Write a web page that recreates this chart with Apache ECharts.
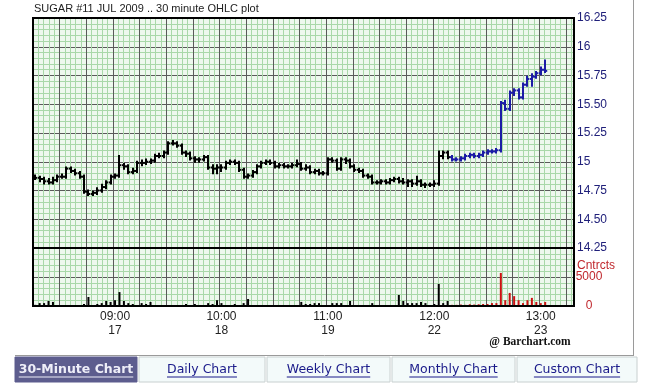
<!DOCTYPE html>
<html><head><meta charset="utf-8">
<script src="https://cdn.jsdelivr.net/npm/echarts@6/dist/echarts.min.js"></script>
<style>html,body{margin:0;padding:0;background:#fff;}#c{width:647px;height:383px;}</style>
</head><body><div id="c"></div>
<script>
// ---------- data ----------
const barCount = 122; // number of slots on the time axis
const opens = [14.87,14.86,14.85,14.83,14.82,14.84,14.87,14.87,14.94,14.92,14.90,14.87,14.74,14.72,14.73,14.75,14.78,14.82,14.87,14.88,
14.97,14.96,14.91,14.92,14.99,14.99,15.00,15.01,15.05,15.05,15.08,15.16,15.16,15.14,15.08,15.07,15.03,15.02,15.02,15.04,
14.95,14.94,14.95,14.95,14.99,15.00,14.99,14.93,14.87,14.88,14.91,14.96,14.99,15.00,14.99,14.96,14.97,14.96,14.96,14.97,
14.98,14.94,14.95,14.91,14.92,14.90,14.90,15.02,15.01,14.94,15.02,15.01,14.96,14.93,14.92,14.88,14.87,14.82,14.82,14.83,
14.82,14.84,14.85,14.83,14.82,14.83,14.81,14.83,14.80,14.80,14.80,14.81,15.05,15.08,15.04,15.02,15.02,15.03,15.05,15.06,
15.05,15.06,15.08,15.09,15.09,15.10,15.51,15.46,15.60,15.62,15.56,15.67,15.72,15.74,15.77,15.80];
const highs = [14.88,14.87,14.86,14.85,14.86,14.88,14.89,14.95,14.95,14.93,14.91,14.88,14.75,14.74,14.77,14.80,14.83,14.88,14.89,15.05,
14.98,14.97,14.94,15.00,15.01,15.02,15.02,15.06,15.07,15.09,15.17,15.18,15.17,15.15,15.09,15.08,15.04,15.03,15.05,15.05,
14.97,14.97,14.97,15.00,15.01,15.01,15.00,14.94,14.89,14.92,14.97,15.00,15.01,15.01,15.00,14.98,14.98,14.97,14.98,15.01,
14.99,14.97,14.96,14.93,14.93,14.91,15.03,15.03,15.02,15.03,15.03,15.02,14.97,14.94,14.93,14.89,14.88,14.83,14.84,14.84,
14.85,14.86,14.86,14.85,14.84,14.84,14.87,14.84,14.81,14.81,14.83,15.09,15.09,15.09,15.05,15.03,15.04,15.06,15.07,15.07,
15.07,15.09,15.10,15.10,15.11,15.52,15.53,15.61,15.63,15.63,15.68,15.74,15.76,15.78,15.82,15.88];
const lows = [14.85,14.83,14.81,14.81,14.81,14.83,14.86,14.86,14.91,14.89,14.86,14.73,14.71,14.71,14.72,14.74,14.77,14.81,14.86,14.87,
14.94,14.90,14.90,14.91,14.97,14.98,14.99,15.00,15.04,15.04,15.07,15.15,15.13,15.07,15.05,15.02,15.00,15.00,15.01,14.94,
14.90,14.90,14.92,14.94,14.98,14.98,14.92,14.86,14.86,14.87,14.90,14.95,14.98,14.98,14.95,14.95,14.95,14.95,14.95,14.96,
14.93,14.93,14.90,14.90,14.89,14.89,14.89,15.00,14.93,14.93,14.99,14.95,14.92,14.91,14.87,14.86,14.81,14.81,14.81,14.81,
14.81,14.83,14.82,14.81,14.79,14.79,14.80,14.79,14.78,14.79,14.79,14.80,15.03,15.03,15.01,15.01,15.01,15.02,15.04,15.04,
15.04,15.05,15.07,15.08,15.08,15.09,15.45,15.45,15.58,15.55,15.55,15.66,15.66,15.73,15.76,15.78];
const closes = [14.86,14.85,14.83,14.82,14.84,14.87,14.87,14.94,14.92,14.90,14.87,14.74,14.72,14.73,14.75,14.78,14.82,14.87,14.88,14.97,
14.96,14.91,14.92,14.99,14.99,15.00,15.01,15.05,15.05,15.08,15.16,15.16,15.14,15.08,15.07,15.03,15.02,15.02,15.04,14.95,
14.94,14.95,14.95,14.99,15.00,14.99,14.93,14.87,14.88,14.91,14.96,14.99,15.00,14.99,14.96,14.97,14.96,14.96,14.97,14.98,
14.94,14.95,14.91,14.92,14.90,14.90,15.02,15.01,14.94,15.02,15.01,14.96,14.93,14.92,14.88,14.87,14.82,14.82,14.83,14.82,
14.84,14.85,14.83,14.82,14.83,14.81,14.83,14.80,14.80,14.80,14.81,15.05,15.08,15.04,15.02,15.02,15.03,15.05,15.06,15.05,
15.06,15.08,15.09,15.09,15.10,15.51,15.46,15.60,15.62,15.56,15.67,15.72,15.74,15.77,15.80,15.79];
const volumes = [200,500,500,860,700,0,0,0,0,0,0,350,1550,0,350,500,860,700,1000,2400,
860,500,350,0,500,350,700,0,170,0,170,0,170,0,350,0,350,170,0,500,
350,1000,500,0,0,350,0,500,1200,0,0,0,0,0,0,0,0,0,0,0,
700,350,350,500,500,0,0,500,500,500,0,860,0,0,0,0,500,0,0,0,
0,0,1900,860,500,500,500,700,500,0,350,3800,500,860,200,200,250,200,300,250,
300,350,350,500,500,5700,1000,2250,1700,1000,500,1000,1400,700,500,700];
const todayStart = 94; // first bar of the current session (blue / red)
const xTickIndex = [18, 42, 66, 90, 114];
const xTickTime = ['09:00','10:00','11:00','12:00','13:00'];
const xTickDay = ['17','18','19','22','23'];
const priceTicks = [14.25,14.5,14.75,15,15.25,15.5,15.75,16,16.25];
const priceTickLabels = ['14.25','14.50','14.75','15','15.25','15.50','15.75','16','16.25'];
const volTicks = [0,5000];
const volTickLabels = ['0','5000'];
const titleText = 'SUGAR #11 JUL 2009 .. 30 minute OHLC plot';
const tabs = ['30-Minute Chart','Daily Chart','Weekly Chart','Monthly Chart','Custom Chart'];

// ---------- layout / style ----------
const PL = 33, PR = 574, PT = 18, PM = 248, PB = 306;
const majorPx = 26.65;
const gridMaxX = (PR - PL) / majorPx;
const BLUE = '#1c1ca6', RED = '#cc1111';
const MAJ = '#5a5a5a', MIN = '#a9d8a9', BG = '#eef8ee';
const cats = Array.from({length: barCount}, (_, i) => String(i));
const ohlcData = closes.map((c, i) => [i, opens[i], highs[i], lows[i], c]);

const chart = echarts.init(document.getElementById('c'), null, {renderer: 'canvas'});

const gridLineAxis = (g) => ({
  gridIndex: g, type: 'value', min: 0, max: gridMaxX, interval: 1,
  axisLine: {show: false}, axisTick: {show: false}, axisLabel: {show: false},
  splitLine: {show: true, lineStyle: {color: MAJ, width: 1}},
  minorTick: {show: false, splitNumber: 5},
  minorSplitLine: {show: true, lineStyle: {color: MIN, width: 1}}
});

// text measurement for underline
const mctx = document.createElement('canvas').getContext('2d');
function tw(t, font) { mctx.font = font; return mctx.measureText(t).width; }

const tabX = [[15,137],[139,265],[267,390],[392,515],[517,637]];
const tabGraphics = [];
tabs.forEach((t, k) => {
  const [x0, x1] = tabX[k];
  const active = k === 0;
  const font = (active ? 'bold ' : '') + '12.5px "DejaVu Sans"';
  const cx = (x0 + x1) / 2;
  const w = tw(t, font);
  tabGraphics.push({type: 'rect', shape: {x: x0, y: 357, width: x1 - x0, height: 25},
    style: {fill: active ? '#5d5d8e' : '#f3fafa', stroke: active ? '#5d5d8e' : '#c8d0d0', lineWidth: 1}, silent: true});
  tabGraphics.push({type: 'text', x: cx, y: 369.5,
    style: {text: t, font: font, fill: active ? '#eeeef8' : '#1a1a8a', align: 'center', verticalAlign: 'middle'}});
  tabGraphics.push({type: 'line', shape: {x1: cx - w/2, y1: 377, x2: cx + w/2, y2: 377},
    style: {stroke: active ? '#eeeef8' : '#1a1a8a', lineWidth: 1}});
});

const option = {
  animation: false,
  backgroundColor: '#fff',
  title: {text: titleText, left: 34, top: 3, padding: 0,
    textStyle: {fontSize: 11, fontWeight: 'normal', color: '#222', fontFamily: '"Liberation Sans", Arial'}},
  grid: [
    {left: PL, top: PT, width: PR - PL, height: PM - PT, show: true, backgroundColor: BG, borderWidth: 0},
    {left: PL, top: PM, width: PR - PL, height: PB - PM, show: true, backgroundColor: BG, borderWidth: 0}
  ],
  xAxis: [
    {gridIndex: 0, type: 'category', data: cats, boundaryGap: true, show: false},
    {gridIndex: 1, type: 'category', data: cats, boundaryGap: true,
      axisLine: {show: false}, axisTick: {show: false}, splitLine: {show: false},
      axisLabel: {show: true, interval: (idx) => xTickIndex.indexOf(idx) >= 0, margin: 4,
        formatter: (v, idx) => { const k = xTickIndex.indexOf(idx); return k >= 0 ? xTickTime[k] + '\n' + xTickDay[k] : ''; },
        color: '#222', fontSize: 12, lineHeight: 14, fontFamily: '"Liberation Sans", Arial'}},
    gridLineAxis(0),
    gridLineAxis(1)
  ],
  yAxis: [
    {gridIndex: 0, type: 'value', position: 'right', min: 14.25, max: 16.25, interval: 0.25,
      axisLine: {show: false}, axisTick: {show: false},
      axisLabel: {show: true, margin: 3, align: 'left', color: '#20207a', fontSize: 12, fontFamily: '"Liberation Sans", Arial',
        formatter: (v) => { const k = priceTicks.findIndex(p => Math.abs(p - v) < 1e-6); return k >= 0 ? priceTickLabels[k] : ''; }},
      splitLine: {show: true, lineStyle: {color: MAJ, width: 1}},
      minorTick: {show: false, splitNumber: 5},
      minorSplitLine: {show: true, lineStyle: {color: MIN, width: 1}}},
    {gridIndex: 1, type: 'value', position: 'right', min: 0, max: 10000, interval: 5000,
      axisLine: {show: false}, axisTick: {show: false},
      axisLabel: {show: true, margin: 15, align: 'center', color: '#c0282d', fontSize: 12, fontFamily: '"Liberation Sans", Arial',
        formatter: (v) => { const k = volTicks.indexOf(v); return k >= 0 ? volTickLabels[k] : ''; }},
      splitLine: {show: true, lineStyle: {color: MAJ, width: 1}},
      minorTick: {show: false, splitNumber: 5},
      minorSplitLine: {show: true, lineStyle: {color: MIN, width: 1}}}
  ],
  series: [
    {type: 'custom', xAxisIndex: 0, yAxisIndex: 0, data: ohlcData, encode: {x: 0, y: [1, 2, 3, 4]}, z: 5,
      renderItem: function (params, api) {
        const i = api.value(0);
        const o = api.coord([i, api.value(1)]);
        const h = api.coord([i, api.value(2)]);
        const l = api.coord([i, api.value(3)]);
        const c = api.coord([i, api.value(4)]);
        const w = api.size([1, 0])[0];
        const x = Math.round(o[0]);
        const col = i >= todayStart ? BLUE : '#000';
        const st = {stroke: col, lineWidth: 2};
        return {type: 'group', children: [
          {type: 'line', shape: {x1: x, y1: h[1] - 1, x2: x, y2: l[1] + 1}, style: st},
          {type: 'line', shape: {x1: x - w / 2, y1: o[1], x2: x, y2: o[1]}, style: st},
          {type: 'line', shape: {x1: x, y1: c[1], x2: x + w / 2, y2: c[1]}, style: st}
        ]};
      }},
    {type: 'bar', xAxisIndex: 1, yAxisIndex: 1, barWidth: 2, z: 5,
      data: volumes.map((v, i) => ({value: v, itemStyle: {color: i >= todayStart ? RED : '#000'}}))}
  ],
  graphic: [
    {type: 'rect', z: 100, shape: {x: PL, y: PT, width: PR - PL, height: PM - PT}, style: {fill: null, stroke: '#000', lineWidth: 2}, silent: true},
    {type: 'rect', z: 100, shape: {x: PL, y: PM, width: PR - PL, height: PB - PM}, style: {fill: null, stroke: '#000', lineWidth: 2}, silent: true},
    {type: 'line', shape: {x1: 633.5, y1: 0, x2: 633.5, y2: 355}, style: {stroke: '#9a9a9a', lineWidth: 1}},
    {type: 'line', shape: {x1: 15, y1: 355.5, x2: 634, y2: 355.5}, style: {stroke: '#9a9a9a', lineWidth: 1}},
    {type: 'text', x: 577, y: 266, style: {text: 'Cntrcts', font: '12px "Liberation Sans", Arial', fill: '#c0282d', align: 'left', verticalAlign: 'middle'}},
    {type: 'text', x: 530, y: 342, style: {text: '@ Barchart.com', font: 'bold 11.5px "Liberation Serif", serif', fill: '#111', align: 'center', verticalAlign: 'middle'}}
  ].concat(tabGraphics)
};
chart.setOption(option);
</script>
</body></html>
